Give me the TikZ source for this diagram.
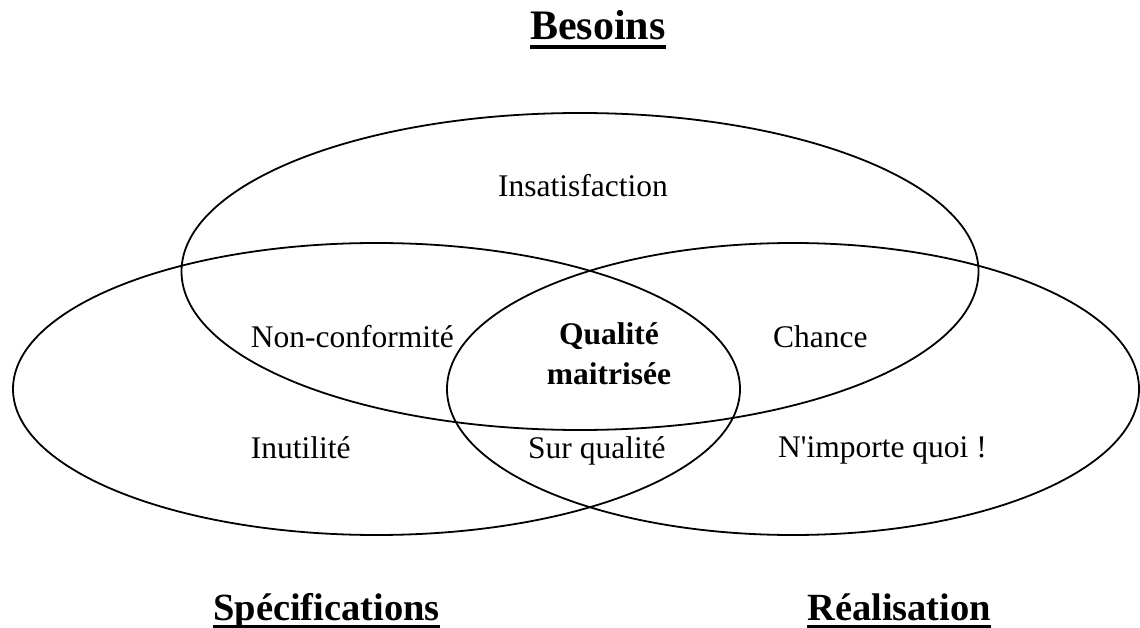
\documentclass[tikz,border=0pt]{standalone}
\usepackage{fontspec}
\setmainfont{Liberation Serif}
\usetikzlibrary{calc}
\begin{document}
\begin{tikzpicture}[x=1pt,y=-1pt,
  set/.style={draw=black,line width=1.8pt},
  region/.style={inner sep=0pt,font=\fontsize{31.5}{40}\selectfont},
  core/.style={region,font=\fontsize{31.5}{40}\selectfont\bfseries,align=center},
  title/.style={inner sep=0pt,font=\fontsize{42}{48}\selectfont\bfseries},
  subtitle/.style={inner sep=0pt,font=\fontsize{38.5}{44}\selectfont\bfseries},
  rule/.style={line width=4pt}]
\useasboundingbox (0,0) rectangle (1140,628);

% the three sets
\draw[set] (580,271.5) ellipse [x radius=398.5pt, y radius=158.5pt];
\draw[set] (376.5,389) ellipse [x radius=363.5pt, y radius=146pt];
\draw[set] (793,389) ellipse [x radius=346pt, y radius=146pt];

% region labels
\node[region,anchor=base west] (insat) at (498,197) {Insatisfaction};
\node[region,anchor=base west] (nonconf) at (250.7,347) {Non-conformité};
\node[region,anchor=base west] (chance) at (773,347) {Chance};
\node[core] (qual) at (609,354) {Qualité\\maitrisée};
\node[region,anchor=base west] (inutil) at (250.7,458) {Inutilité};
\node[region,anchor=base west] (surq) at (528,458) {Sur qualité};
\node[region,anchor=base west] (nimp) at (778,457) {N\textquotesingle importe quoi !};

% set names, underlined
\node[title,anchor=base west] (besoins) at (530,39.3) {Besoins};
\draw[rule] ($(besoins.base west)+(0,8)$) -- ($(besoins.base east)+(0,8)$);
\node[subtitle,anchor=base west] (spec) at (213,620) {Spécifications};
\draw[rule] ($(spec.base west)+(0,7)$) -- ($(spec.base east)+(0,7)$);
\node[subtitle,anchor=base west] (real) at (807,620) {Réalisation};
\draw[rule] ($(real.base west)+(0,7)$) -- ($(real.base east)+(0,7)$);
\end{tikzpicture}
\end{document}
